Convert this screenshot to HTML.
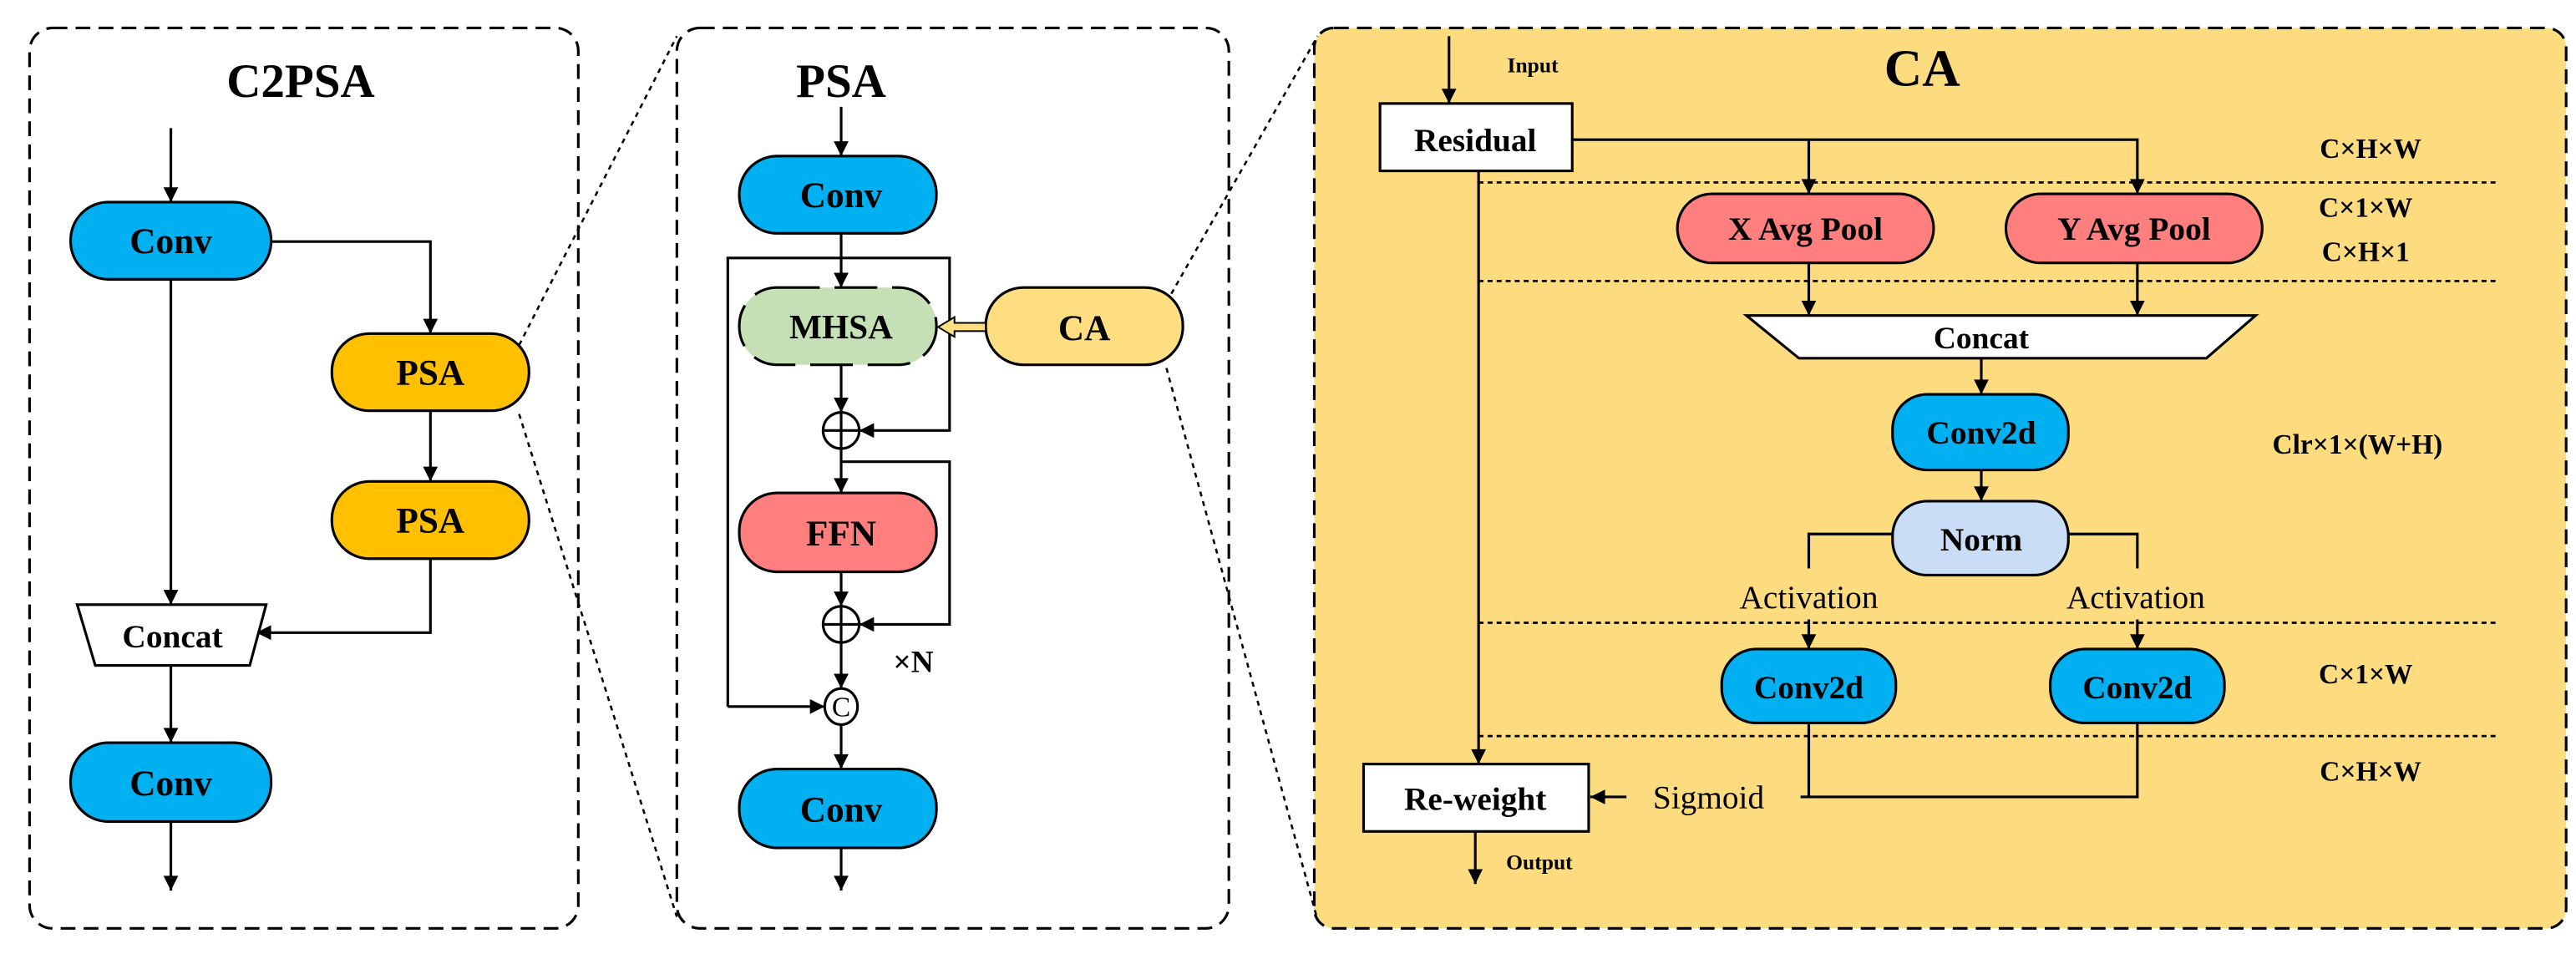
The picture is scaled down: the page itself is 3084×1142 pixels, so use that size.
<!DOCTYPE html>
<html><head><meta charset="utf-8"><style>
html,body{margin:0;padding:0;background:#fff;}
svg{display:block;}
text{font-family:"Liberation Serif",serif;fill:#000;}
.n{font-weight:normal;}
.b{font-weight:bold;}
</style></head><body>
<svg width="3084" height="1142" viewBox="0 0 1568 580.6" preserveAspectRatio="none" xmlns="http://www.w3.org/2000/svg">
<defs>
<marker id="a" viewBox="0 0 10 10" refX="10" refY="5" markerWidth="11" markerHeight="9" orient="auto" markerUnits="userSpaceOnUse"><path d="M0,0 L10,5 L0,10 z" fill="#000"/></marker>
</defs>
<g fill="none" stroke="#000" stroke-width="1.6">
<rect x="18" y="17" width="334" height="548" rx="14" stroke-dasharray="9,5"/>
<rect x="412" y="17" width="336" height="548" rx="14" stroke-dasharray="9,5"/>
<rect x="800" y="17" width="762" height="548" rx="12" fill="#FDDC80" stroke-dasharray="9,5"/>
<path d="M316,210 L412,22 M316,252 L412,558 M710,184 L802,22 M710,224 L802,560" stroke-dasharray="3,3" stroke-width="1.3"/>
</g>

<g class="b">
<text x="183" y="59" font-size="29" text-anchor="middle">C2PSA</text>
</g>
<g stroke="#000" stroke-width="1.6" fill="none">
<line x1="104" y1="78" x2="104" y2="123" marker-end="url(#a)"/>
<rect x="43" y="123" width="122" height="47" rx="23" fill="#00B0F0"/>
<polyline points="165,147 262,147 262,203" marker-end="url(#a)"/>
<rect x="202" y="203" width="120" height="47" rx="23" fill="#FFC000"/>
<line x1="262" y1="250" x2="262" y2="293" marker-end="url(#a)"/>
<rect x="202" y="293" width="120" height="47" rx="23" fill="#FFC000"/>
<polyline points="262,340 262,385 156,385" marker-end="url(#a)"/>
<line x1="104" y1="170" x2="104" y2="368" marker-end="url(#a)"/>
<polygon points="47,368 162,368 152,405 58,405" fill="#fff"/>
<line x1="104" y1="405" x2="104" y2="452" marker-end="url(#a)"/>
<rect x="43" y="452" width="122" height="48" rx="23" fill="#00B0F0"/>
<line x1="104" y1="500" x2="104" y2="542" marker-end="url(#a)"/>
</g>
<g font-size="22" text-anchor="middle" class="b">
<text x="104" y="154">Conv</text>
<text x="262" y="234">PSA</text>
<text x="262" y="324">PSA</text>
<text x="105" y="394" font-size="20">Concat</text>
<text x="104" y="484">Conv</text>
</g>

<!-- PSA -->
<text x="512" y="59" font-size="29" text-anchor="middle" class="b">PSA</text>
<g stroke="#000" stroke-width="1.6" fill="none">
<line x1="512" y1="65" x2="512" y2="95" marker-end="url(#a)"/>
<rect x="450" y="95" width="120" height="47" rx="23" fill="#00B0F0"/>
<line x1="512" y1="142" x2="512" y2="175" marker-end="url(#a)"/>
<polyline points="443,430 443,157 578,157 578,262 523,262" marker-end="url(#a)"/>
<line x1="443" y1="430" x2="502" y2="430" marker-end="url(#a)"/>
<rect x="450" y="175" width="120" height="47" rx="23" fill="#C5E0B4" stroke-dasharray="26,9"/>
<rect x="600" y="175" width="120" height="47" rx="23" fill="#FEDE80"/>
<line x1="512" y1="222" x2="512" y2="251" marker-end="url(#a)"/>
<circle cx="512" cy="262" r="11" fill="#fff"/>
<line x1="501" y1="262" x2="523" y2="262"/>
<line x1="512" y1="251" x2="512" y2="300" marker-end="url(#a)"/>
<polyline points="512,281 578,281 578,380 523,380" marker-end="url(#a)"/>
<rect x="450" y="300" width="120" height="48" rx="23" fill="#FF7F7F"/>
<line x1="512" y1="348" x2="512" y2="369" marker-end="url(#a)"/>
<circle cx="512" cy="380" r="11" fill="#fff"/>
<line x1="501" y1="380" x2="523" y2="380"/>
<line x1="512" y1="369" x2="512" y2="419" marker-end="url(#a)"/>
<ellipse cx="512" cy="430" rx="10" ry="11" fill="#fff"/>
<line x1="512" y1="441" x2="512" y2="468" marker-end="url(#a)"/>
<rect x="450" y="468" width="120" height="48" rx="23" fill="#00B0F0"/>
<line x1="512" y1="516" x2="512" y2="542" marker-end="url(#a)"/>
</g>
<path d="M600,196.5 L581,196.5 L581,193 L571,199 L581,205 L581,201.5 L600,201.5 z" fill="#FEDE80" stroke="#000" stroke-width="1"/>
<g font-size="22" text-anchor="middle" class="b">
<text x="512" y="126">Conv</text>
<text x="512" y="206" font-size="21">MHSA</text>
<text x="660" y="207">CA</text>
<text x="512" y="332">FFN</text>
<text x="512" y="500">Conv</text>
<text x="556" y="409" font-size="19">×N</text>
</g>
<text x="512" y="436" font-size="17" text-anchor="middle" class="n">C</text>

<!-- CA -->
<text x="1170" y="52" font-size="32" text-anchor="middle" class="b">CA</text>
<g stroke="#000" stroke-width="1.6" fill="none">
<path d="M900,111 H1520 M900,171 H1520 M900,379 H1520 M900,448 H1520" stroke-dasharray="3,2.5" stroke-width="1.4"/>
<line x1="882" y1="22" x2="882" y2="63" marker-end="url(#a)"/>
<rect x="840" y="63" width="117" height="41" fill="#fff"/>
<polyline points="957,85 1301,85 1301,118" marker-end="url(#a)"/>
<line x1="1101" y1="85" x2="1101" y2="118" marker-end="url(#a)"/>
<line x1="900" y1="104" x2="900" y2="465" marker-end="url(#a)"/>
<rect x="1021" y="118" width="156" height="42" rx="21" fill="#FF7F7F"/>
<rect x="1221" y="118" width="156" height="42" rx="21" fill="#FF7F7F"/>
<line x1="1101" y1="160" x2="1101" y2="192" marker-end="url(#a)"/>
<line x1="1301" y1="160" x2="1301" y2="192" marker-end="url(#a)"/>
<polygon points="1063,192 1373,192 1343,218 1095,218" fill="#fff"/>
<line x1="1206" y1="218" x2="1206" y2="240" marker-end="url(#a)"/>
<rect x="1152" y="240" width="107" height="46" rx="21" fill="#00B0F0"/>
<line x1="1206" y1="286" x2="1206" y2="305" marker-end="url(#a)"/>
<rect x="1152" y="305" width="107" height="45" rx="21" fill="#C9DDF6"/>
<polyline points="1152,325 1101,325 1101,346"/>
<polyline points="1259,325 1301,325 1301,346"/>
<line x1="1101" y1="377" x2="1101" y2="395" marker-end="url(#a)"/>
<line x1="1301" y1="377" x2="1301" y2="395" marker-end="url(#a)"/>
<rect x="1048" y="395" width="106" height="45" rx="21" fill="#00B0F0"/>
<rect x="1248" y="395" width="106" height="45" rx="21" fill="#00B0F0"/>
<polyline points="1101,440 1101,485"/>
<polyline points="1096,485 1301,485 1301,440"/>
<line x1="990" y1="485" x2="968" y2="485" marker-end="url(#a)"/>
<rect x="830" y="465" width="137" height="41" fill="#fff"/>
<line x1="898" y1="506" x2="898" y2="538" marker-end="url(#a)"/>
</g>
<g text-anchor="middle" font-size="20" class="b">
<text x="933" y="44" font-size="13">Input</text>
<text x="898" y="92">Residual</text>
<text x="1099" y="146">X Avg Pool</text>
<text x="1299" y="146">Y Avg Pool</text>
<text x="1206" y="212" font-size="19">Concat</text>
<text x="1206" y="270">Conv2d</text>
<text x="1206" y="335">Norm</text>
<text x="1101" y="425">Conv2d</text>
<text x="1301" y="425">Conv2d</text>
<text x="898" y="493">Re-weight</text>
<text x="937" y="529" font-size="13">Output</text>
<g font-size="17">
<text x="1443" y="96">C×H×W</text>
<text x="1440" y="132">C×1×W</text>
<text x="1440" y="159">C×H×1</text>
<text x="1435" y="276">Clr×1×(W+H)</text>
<text x="1440" y="416">C×1×W</text>
<text x="1443" y="475">C×H×W</text>
</g>
</g>
<g text-anchor="middle" font-size="20" class="n">
<text x="1101" y="370">Activation</text>
<text x="1300" y="370">Activation</text>
<text x="1040" y="492">Sigmoid</text>
</g>
</svg>
</body></html>
